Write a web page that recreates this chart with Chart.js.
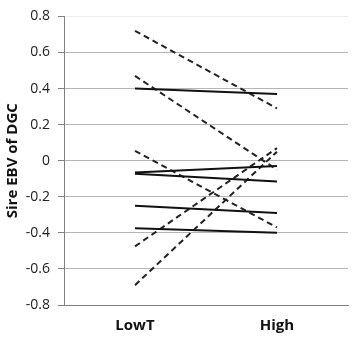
<!DOCTYPE html>
<html>
<head>
<meta charset="utf-8">
<script src="https://cdn.jsdelivr.net/npm/chart.js@4"></script>
<style>
  html, body { margin: 0; padding: 0; background: #fff; }
  #wrap { width: 360px; height: 340px; }
</style>
</head>
<body>
<div id="wrap"><canvas id="ebvChart" width="360" height="340"></canvas></div>
<script>
// categories and sire EBV values
const categories = ['LowT', 'High'];
const yTicks = [-0.8, -0.6, -0.4, -0.2, 0, 0.2, 0.4, 0.6, 0.8];

const solidSires = [
    [0.40, 0.37],
    [-0.065, -0.03],
    [-0.073, -0.115],
    [-0.25, -0.29],
    [-0.375, -0.40]
];
const dashedSires = [
    [0.72, 0.29],
    [0.47, -0.05],
    [0.055, -0.37],
    [-0.475, 0.07],
    [-0.69, 0.05]
];

const datasets = [];
solidSires.forEach(vals => {
    datasets.push({
        data: vals,
        borderColor: '#111',
        borderWidth: 2,
        pointRadius: 0,
        fill: false
    });
});
dashedSires.forEach(vals => {
    datasets.push({
        data: vals,
        borderColor: '#222',
        borderWidth: 2,
        borderDash: [6, 4],
        pointRadius: 0,
        fill: false
    });
});

const ebvChart = new Chart(document.getElementById('ebvChart'), {
    type: 'line',
    data: {
        labels: categories,
        datasets: datasets
    },
    options: {
        responsive: false,
        animation: false,
        layout: { padding: { top: 14, right: 12, left: 4, bottom: 0 } },
        plugins: {
            legend: { display: false },
            tooltip: { enabled: false }
        },
        scales: {
            x: {
                offset: true,
                grid: { display: false },
                border: { display: true, color: '#808080', width: 1 },
                ticks: {
                    color: '#111',
                    padding: 4,
                    font: { family: 'Open Sans', size: 15, weight: 'bold' }
                },
                afterFit: axis => { axis.height = 35; }
            },
            y: {
                min: -0.8,
                max: 0.8,
                afterBuildTicks: axis => {
                    axis.ticks = yTicks.map(v => ({ value: v }));
                },
                afterFit: axis => { axis.width = 60; },
                title: {
                    display: true,
                    text: 'Sire EBV of DGC',
                    color: '#111',
                    padding: { top: 0, bottom: 4 },
                    font: { family: 'Open Sans', size: 15, weight: 'bold' }
                },
                border: { display: true, color: '#808080', width: 1 },
                grid: {
                    color: ctx => ctx.tick && ctx.tick.value > 0.79 ? '#eeeeee' : '#b5b5b5',
                    tickColor: '#808080',
                    tickLength: 6
                },
                ticks: {
                    color: '#222',
                    padding: 8,
                    font: { family: 'Open Sans', size: 14 },
                    callback: v => String(Number(v.toFixed(1)))
                }
            }
        }
    }
});
</script>
</body>
</html>
